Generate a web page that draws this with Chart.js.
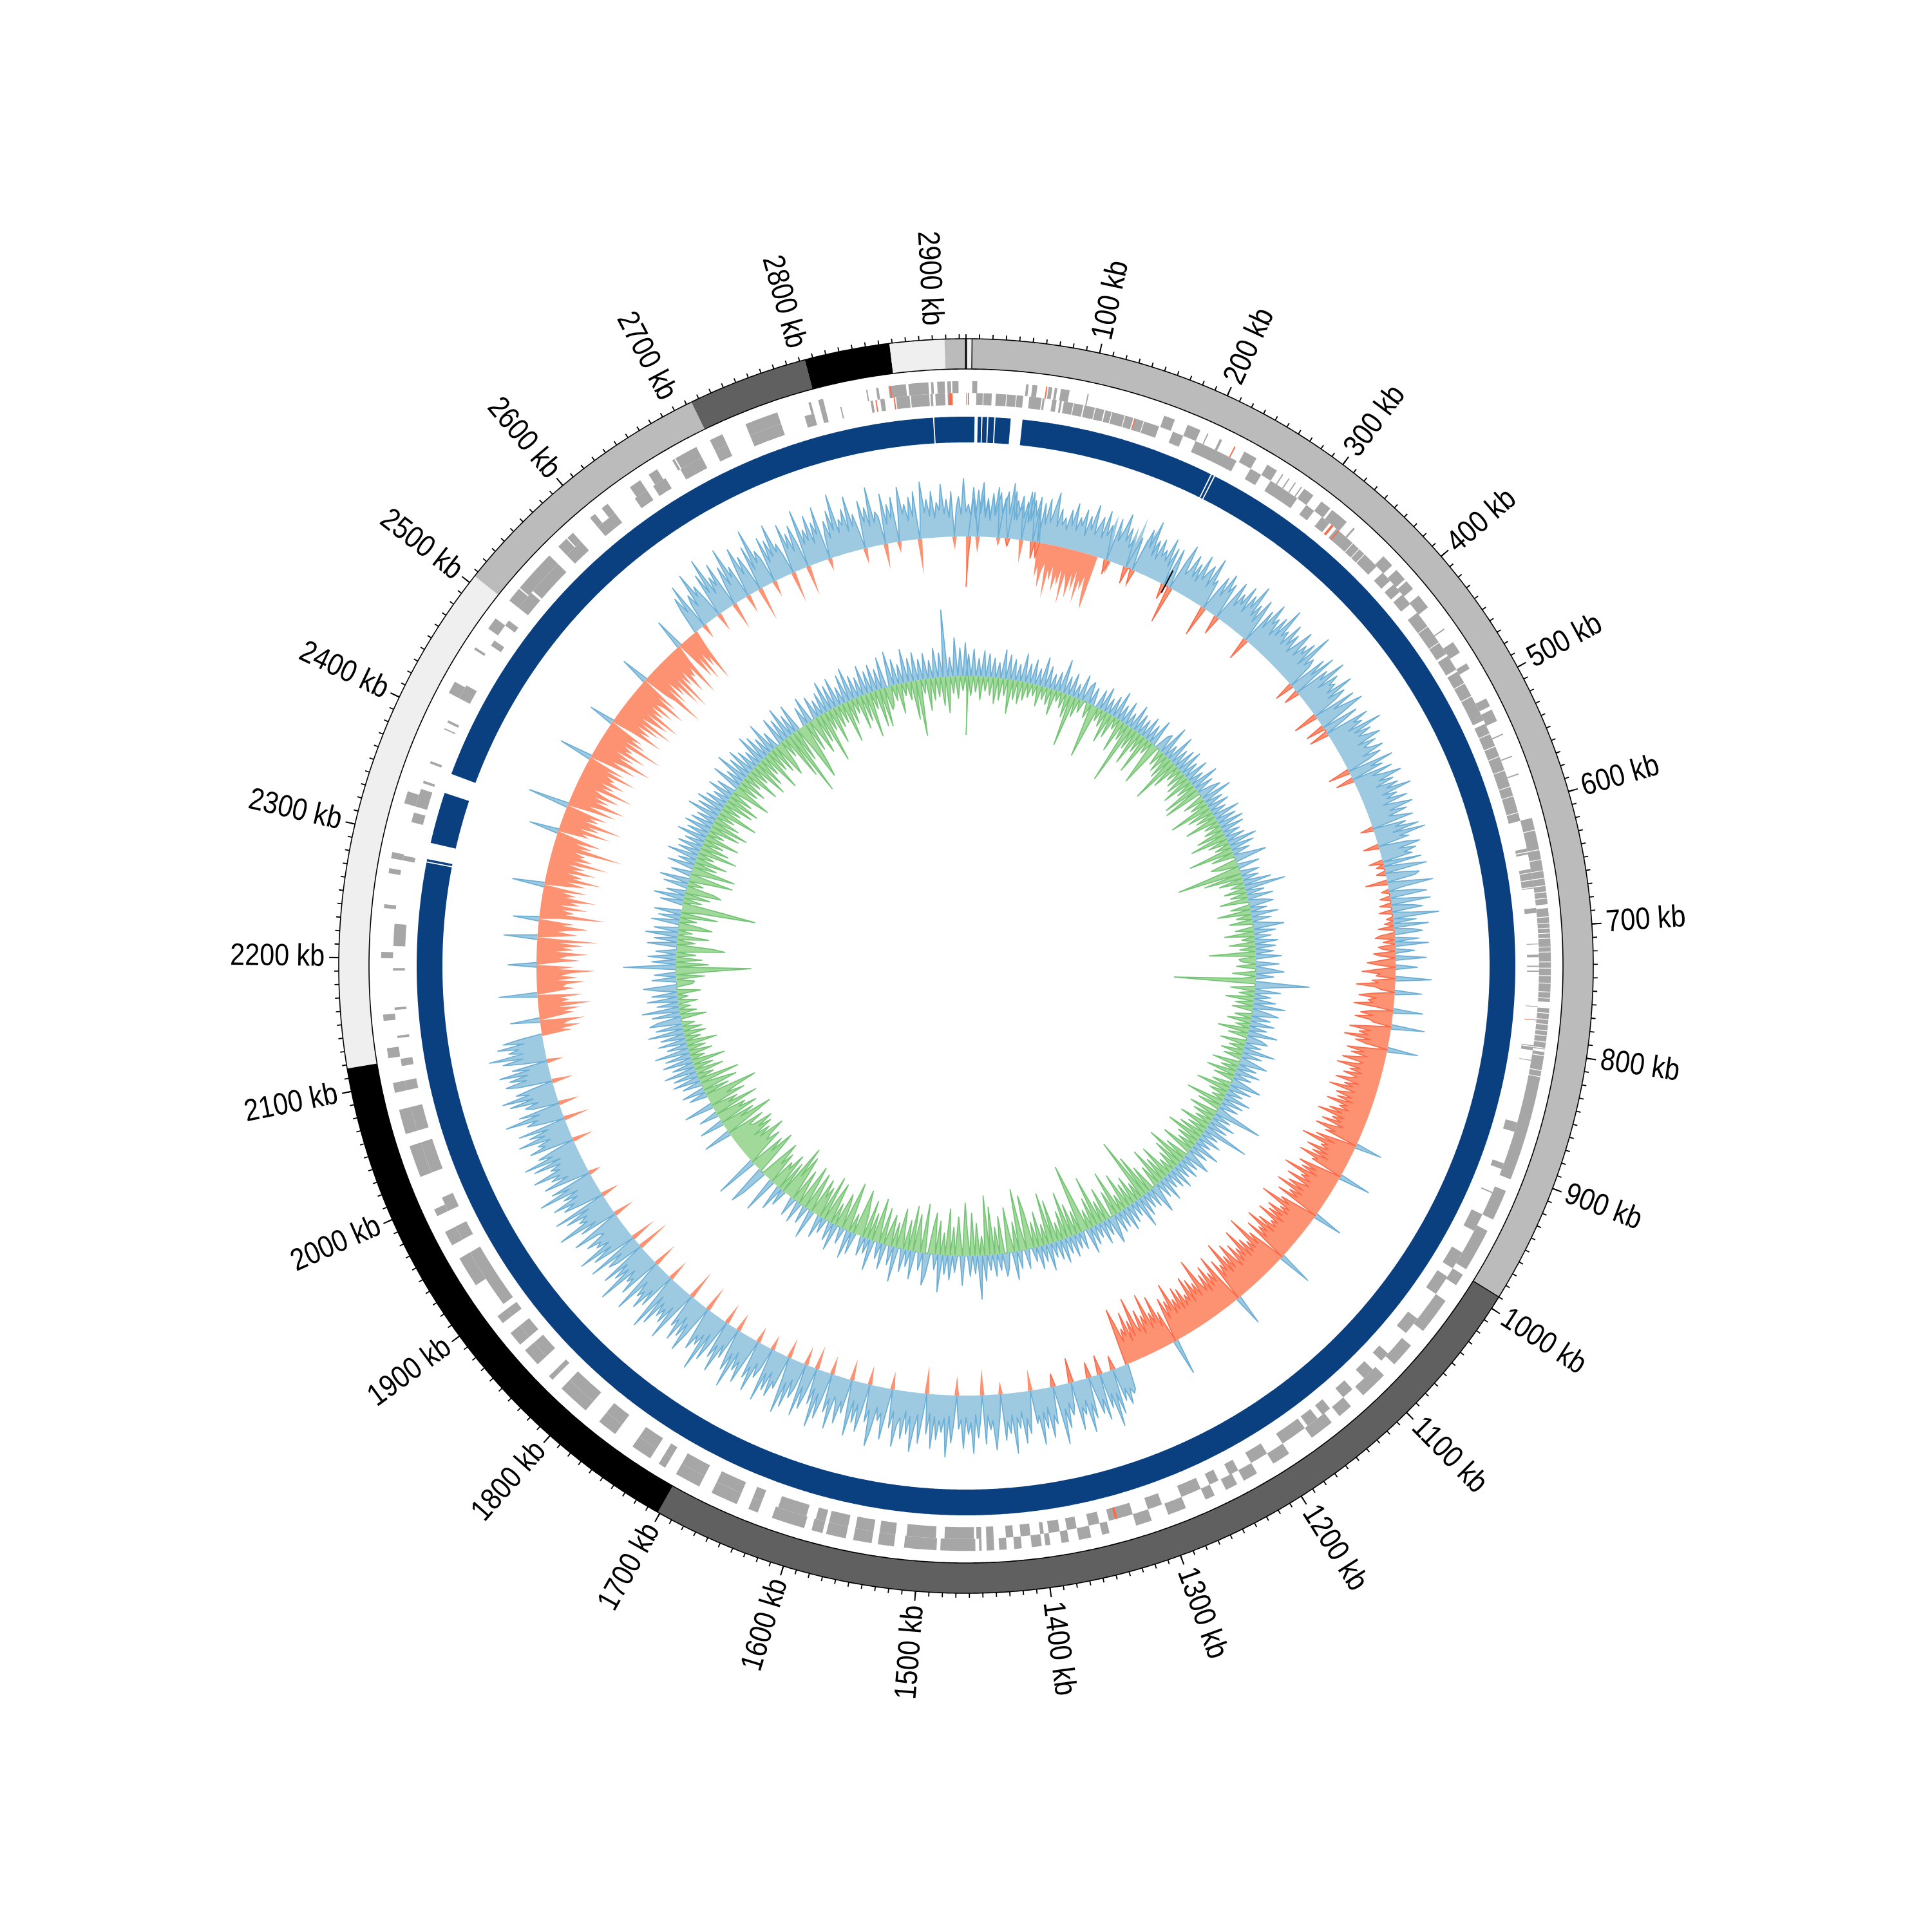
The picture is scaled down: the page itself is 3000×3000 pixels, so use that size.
<!DOCTYPE html>
<html><head><meta charset="utf-8"><style>html,body{margin:0;padding:0;background:#fff}canvas{display:block}</style>
<script src="https://cdn.jsdelivr.net/npm/chart.js@4/dist/chart.umd.js"></script></head>
<body><canvas id="c" width="3000" height="3000"></canvas>
<script>
const genomeKb=2925;
const tickLabels=[100,200,300,400,500,600,700,800,900,1000,1100,1200,1300,1400,1500,1600,1700,1800,1900,2000,2100,2200,2300,2400,2500,2600,2700,2800,2900];
const bandStarts=[0,4.5,990,1702,2117,2506,2714,2804,2868,2909];
const bandEnds=[4.5,990,1702,2117,2506,2714,2804,2868,2909,2925];
const bandColors=['#efefef','#bbbbbb','#606060','#000000','#efefef','#bbbbbb','#606060','#000000','#efefef','#bbbbbb'];
const contigs=[0,7.3,10,13,14,18,19,24,25,38,48,215,216,218,219,2282,2283,2285,2299,2343,2360,2897,2898,2925];
const geneOuter=[5,9,48,50,53,57,66,69,71,73,76,83,97.5,98.5,161,170,181,192,198,199,209,211,231,242,252,261,266,267,272,273,278,279,284,285,287,296,304,313,315,330,337,338.5,370,380,385,395,397,405,412,424,445,446,458,468,478,483,510,517,520,530,541,542,560,561,575,576,612,682,685,760,765,798,800,905,915,940,950,985,990,1000,1015,1045,1060,1080,1092,1115,1128,1140,1148,1168,1190,1205,1220,1232,1238,1248,1258,1266,1283,1298,1312,1325,1347,1353,1362,1372,1380,1386,1395,1399,1402,1410,1418,1424,1430,1436,1440,1446,1450,1452,1455,1483,1486,1512,1520,1533,1538,1553,1559,1575,1578,1587,1593,1620,1632,1640,1650,1672,1683,1704,1714,1720,1728,1745,1762,1778,1792,1818,1828,1832,1845,1860,1866,1878,1888,1895,1925,1950,1962,1974,1988,1994,2000,2000,2022,2048,2058,2078,2092,2100,2120,2128,2150,2155,2200,2205,2240,2243,2268,2272,2280,2285,2325,2335,2395,2395,2420,2430,2460,2462,2480,2490,2508,2520,2521,2556,2566,2575,2576,2582,2600,2605,2612,2618,2628,2628,2640,2650,2658,2666,2680,2682,2683,2702,2714,2725,2745,2772,2798,2800,2806,2810,2845,2846,2853,2855,2863,2877,2879,2895,2897,2899,2902,2908,2910,2913,2914,2919,2921];
const geneInner=[0,0.6,1.8,2.6,8.4,21,24.3,46.6,51.6,61.6,62.5,64.2,70.4,74,76.6,78.3,80,96,97,113.5,114.5,138,139,160,172,181,192,206,206,229,242,252,261,287,296,304,312,320,327,365,365,372,379,388,392,400,403,413,422,463,465,478,480,515,515,525,528,600,600,612,635,640,652,668,684,688,713,713.6,722,724,731,732,735,736,764,764.6,796,800,808,808.6,860,868,895,900,920,921,940,955,975,990,998,1015,1040,1055,1077,1085,1095,1105,1118,1128,1142,1150,1155,1165,1168,1190,1205,1220,1232,1240,1250,1258,1266,1283,1300,1312,1325,1345,1353,1362,1372,1380,1386,1395,1399,1402,1410,1418,1424,1430,1440,1446,1450,1454,1456,1480,1487,1511,1520,1533,1538,1553,1559,1575,1578,1586,1594,1618,1632,1640,1650,1672,1683,1704,1714,1720,1728,1745,1762,1778,1792,1818,1828,1832,1845,1860,1866,1878,1888,1895,1900,1950,1962,1974,1988,2000,2022,2048,2058,2078,2092,2100,2112,2118,2135,2137,2158,2160,2190,2192,2210,2228,2280,2284,2312,2320,2325,2340,2345,2347,2362,2364,2392,2393,2398,2400,2420,2432,2470,2475,2490,2495,2508,2524,2526,2556,2566,2582,2600,2608,2608,2618,2638,2650,2656,2668,2682,2702,2714,2725,2745,2772,2792,2800,2806,2810,2822,2823,2847,2849,2855,2858.5,2868,2879,2880,2895,2896,2898,2900,2908,2910,2913,2914,2920,2921,2925];
const redOuter=[64,65,222,223,2864,2865];
const redInner=[139,139.7,322,324,329,330,775,775.5,1338,1340,2866,2867,2911,2914,2851,2852,1.5,2];
const geneGaps=[14,33,41,88,106,120,131,147,345,352,358,436,452,491,503,537,548,557,569,583,591,605,622,638,646,655,661,667,672,677,692,697,701,705,709,716,720,728,733,739,745,752,757,762,769,774,778,783,787,792,797,803,815,820,825,832,837,843,849,855,862,868,874,881,888,895,902,955,962,971,978,1021,1031,1102,1906,1912,1918,1930,1946,2106,2113,2122,2134,2142,2160,2168,2176,2183,2192,2214,2220,2226,2233,2248,2254,2262,2290,2297,2306,2316,2342,2351,2368,2376,2384,2405,2412,2438,2446,2452,2535,2543,2550,2590,2735,2755,2763,2780,2790,2818,2830,2838];
const skewBin=2.5;
const skewValues=[
-78,-30,32,58,28,72,36,64,30,52,26,66,34,48,70,38,62,24,-12,40,74,30,44,68,34,60,28,76,36,-26,52,-24,62,30,70,34,56,82,30,58,
34,46,28,60,36,72,30,52,40,66,26,58,38,78,32,48,62,30,74,36,54,28,-22,68,34,50,80,38,60,30,44,-26,28,52,-24,36,70,42,86,32,
58,30,64,38,50,34,72,28,60,-24,62,34,-58,48,76,30,40,66,32,56,28,74,36,52,64,30,80,38,48,-48,34,60,30,70,42,58,-30,36,68,30,
54,38,72,30,62,44,84,34,56,28,70,40,-36,60,32,78,46,58,30,66,36,88,42,54,32,72,38,60,30,50,76,34,58,44,68,30,90,36,52,40,
-30,62,34,74,-24,56,40,82,30,64,46,54,36,78,32,60,42,-38,68,30,52,76,38,-30,58,34,-30,70,44,56,30,84,36,62,40,54,72,32,60,38,
46,66,30,58,38,-34,72,34,52,-28,64,30,48,74,36,58,28,62,42,80,32,54,36,68,28,50,72,34,60,30,46,66,-20,52,34,70,28,78,36,50,
-24,44,64,30,56,36,48,-22,60,-12,38,66,-14,30,52,44,-34,36,70,22,-12,40,58,-16,26,62,-18,32,48,-20,28,72,-10,36,-14,54,-24,30,44,-22,
-30,38,-18,52,-26,-20,30,-34,-24,48,-22,-44,-28,34,-26,-52,-24,-30,56,-36,-26,-60,-30,-22,42,-34,-55,-28,-40,-32,-62,-26,46,-36,-50,-30,-58,-34,-28,52,
-36,-64,-30,-48,-34,-70,-28,-52,-36,48,-30,-62,-34,-54,-28,-46,-66,-32,-40,-72,-34,-50,-30,-58,-36,-44,-68,-30,-52,-38,-74,-32,-46,-60,-34,-56,-30,-70,-36,-48,
-32,-62,-40,-78,-34,-52,-36,-66,-30,-46,-72,-38,-54,42,-34,-64,-32,-84,-40,-50,-36,-70,-34,-58,-30,-76,-44,-52,50,-36,-68,-38,-60,-32,-86,-42,-54,-36,-74,-34,
-48,-66,-38,-82,-36,-56,-40,-72,46,-34,-60,-44,-90,-38,-52,-36,-70,-42,-64,-34,-78,-40,-50,-38,-68,-36,-84,-44,-58,-38,-74,54,-36,-62,-42,-96,-40,-56,-38,-66,
-36,-88,-42,-60,-38,-72,-34,-54,-80,-40,-64,-36,-92,-44,-58,-38,-70,48,-36,-84,-42,-60,-38,-76,-34,-66,-40,-56,-98,-38,-62,-44,-72,-36,-80,-42,-54,-38,-68,-36,
-74,-40,-58,-36,-88,-44,-62,-34,-70,-38,56,-52,-30,-82,-40,-58,-34,-92,-44,-60,-32,-72,-38,-50,-96,-36,-62,-30,-78,-42,-54,-34,-68,-90,40,46,36,60,34,52,
-22,70,36,88,34,56,-30,72,38,60,30,-24,64,40,84,32,54,42,76,-38,36,50,30,68,38,92,34,-20,58,44,78,30,62,36,86,40,52,-34,34,66,
42,80,30,56,38,94,34,62,44,72,-20,36,58,86,40,54,32,76,-42,38,66,30,90,42,60,34,82,38,52,-30,44,74,32,96,36,58,40,70,34,84,
30,62,-44,40,78,34,56,92,38,66,30,74,42,54,88,34,60,-28,36,80,40,52,32,70,94,38,58,-30,44,76,34,64,30,86,40,-34,54,36,72,42,
32,84,38,60,-30,44,74,36,90,30,56,-38,40,68,34,82,-30,42,58,30,76,38,88,34,-32,54,44,70,32,64,38,84,-24,36,52,30,78,40,60,-26,
34,74,42,58,30,90,36,66,40,-30,52,32,80,38,60,-34,44,72,30,94,36,56,42,68,34,-42,48,82,38,62,30,74,40,54,-48,36,86,32,64,42,
58,36,78,30,92,40,-34,60,34,72,44,56,30,88,36,-40,68,42,52,32,96,38,62,34,76,-54,44,58,30,84,-42,40,70,36,90,34,54,44,66,32,
40,80,36,-34,60,32,94,42,54,38,72,30,86,-30,36,64,44,78,34,56,30,92,40,68,-20,36,74,32,58,42,84,38,52,34,76,30,88,40,62,36,
-34,70,44,54,32,82,38,62,30,76,-42,36,58,40,90,34,66,-34,42,52,30,74,36,84,40,60,32,-34,54,72,38,64,34,78,30,56,-26,42,68,36,
88,34,56,40,72,30,62,36,-48,-30,-62,-36,-44,-70,46,-32,-54,-38,-66,-30,-84,-36,-50,-34,-72,60,-30,-58,-40,-46,-76,-32,-64,-38,-52,-92,-34,-60,44,-30,
-68,-36,-48,-80,-30,-58,-40,-72,-34,-96,52,-38,-62,-30,-50,-78,-36,-56,40,-32,-104,-40,-54,-34,-74,-30,-60,-44,-84,-36,-52,-30,-70,50,-38,-64,-34,-88,-42,-56,
-32,-76,-38,-58,-30,-92,-36,-66,-44,-52,-34,-110,-40,-60,-32,-72,-38,46,-50,-36,-82,-30,-62,-42,-96,-34,-56,-40,-68,64,-36,-78,-32,-54,-88,-38,-60,-34,-74,-42,
-30,-92,-38,-58,-34,-72,-44,-52,-36,-84,-32,-62,52,-40,-76,-34,-56,-96,-38,-64,-30,-80,-42,-54,-36,-100,-34,-68,-40,-58,40,-32,-86,-44,-62,-36,-74,-38,-92,-34,
-56,-78,-36,-94,-42,-60,-34,-72,-38,-50,-86,-32,-66,44,-40,-56,-104,-36,-70,-30,-60,-42,-84,-34,-96,-38,-58,-32,-76,-44,-52,-36,-90,-30,48,-40,-68,-34,-78,-32,
-58,-42,-88,-30,38,60,32,76,-24,38,52,30,84,42,58,34,-30,70,36,92,30,56,40,74,-44,34,62,28,88,38,54,-30,44,78,32,60,36,-54,70,30,
94,38,56,42,-26,72,30,64,36,86,40,52,32,-50,78,38,60,30,70,44,-48,90,34,56,38,76,30,62,42,84,-20,36,58,30,72,40,96,34,54,44,
68,32,86,38,56,30,-26,74,40,62,32,92,36,52,44,-40,78,30,60,38,70,-18,34,84,42,56,30,66,36,74,-56,32,88,40,60,34,72,30,54,42,
82,36,58,30,70,-20,44,62,34,90,38,50,32,76,42,-26,56,84,36,60,30,68,40,78,-14,34,54,72,38,86,30,60,44,52,-36,36,76,32,64,40,
70,30,-54,-36,-70,-42,-30,-84,-38,-56,-32,-72,-44,-60,-34,-88,-38,-52,-76,-36,-64,-30,-80,-42,-58,-34,-70,-86,34,30,44,72,36,-22,58,32,80,38,52,30,
66,40,84,34,-30,56,30,72,38,50,62
];
const gcBin=4;
const gcValues=[
-91,34,-30,42,-24,28,-36,40,-22,36,-28,30,-40,24,-34,45,-26,38,-53,32,-30,26,-35,44,-28,
30,-22,38,-18,26,-32,46,-20,34,-26,24,-40,30,-16,52,-24,28,-36,36,-80,22,-30,40,-20,26,
34,-24,28,-44,-84,30,-20,38,-26,24,-48,32,-36,44,-18,26,-52,36,-28,22,-97,40,-34,30,-56,
26,-30,36,-62,28,-22,42,-40,-70,24,30,-26,50,-32,22,-38,46,-75,28,-44,34,-24,40,-30,26,
-36,38,-48,24,-28,44,-56,30,-60,22,36,-34,48,-26,28,-66,34,-40,24,-30,42,-52,32,-24,40,
-28,36,-44,26,-58,30,-32,46,-24,38,-70,28,-36,22,50,-42,-30,34,-48,-100,30,-60,26,-38,44,
-22,64,-34,28,-26,40,-44,24,38,-30,26,-52,42,-24,30,-36,22,48,-28,34,-46,26,-20,36,-40,
32,-24,28,-72,40,-26,-22,36,-30,24,44,-36,28,-20,-126,84,30,-38,40,-24,26,-44,34,-28,50,
-32,24,42,-26,30,-36,38,-22,28,-48,46,-30,24,34,-40,26,-24,50,-34,32,-28,22,44,-42,30,
-26,38,-46,28,-32,24,48,-30,36,-52,26,-28,42,-20,34,-58,30,-36,24,75,-44,28,-34,40,-26,
32,-48,72,-30,26,-40,36,-56,24,-34,44,-28,30,-50,22,42,-36,28,-63,34,-46,26,-32,38,-24,
30,-54,24,-38,40,-60,28,-34,22,46,-42,30,-66,26,-100,34,-28,48,-44,24,-36,30,-58,38,-26,
28,-70,32,-40,24,44,-52,26,-34,36,-78,22,-46,30,-30,40,-62,-108,28,-36,24,-50,34,-72,26,
-44,38,-28,30,-66,24,-80,42,-32,26,-54,36,-40,22,-60,-84,30,-34,-96,28,-46,44,-30,-70,24,
36,-58,26,-42,34,-74,24,-92,40,-30,68,-50,28,-66,32,-36,-82,46,-28,-60,26,-44,38,-72,30,
-34,58,-52,24,-64,-40,34,50,-76,28,-32,-58,44,-70,26,-46,36,-30,-62,54,-38,30,-48,-28,40,
-56,26,-34,-68,48,-42,24,-60,30,-36,-52,-72,34,-30,44,-46,-77,26,-38,-54,42,-34,30,-64,-40,
24,-70,36,-48,-30,-58,46,-36,-62,28,-42,-68,34,-28,-54,30,-44,-72,-36,-84,26,-50,40,-60,-32,
-42,56,-52,-30,-66,-38,44,63,-46,-72,-34,-58,67,-28,-62,-40,-50,-76,-36,-56,-30,-64,-44,-70,-38,
-34,-60,44,-46,-81,-30,-54,38,-64,-36,-48,30,-72,-26,-42,46,-58,-30,-50,-82,28,-40,36,-56,-34,
30,-64,42,-26,38,-44,50,-30,34,-52,46,-22,40,-36,54,-28,32,-48,44,-24,38,-34,56,-30,42,
-20,50,36,-40,44,-26,58,-18,34,-30,48,-16,40,-36,30,52,-24,-28,38,-44,34,-60,-116,82,-50,
38,-40,44,-30,32,-75,-56,46,-28,36,-48,50,-22,38,-52,-34,44,-26,34,-58,42,-30,-115,-70,36,
-28,48,-40,30,-56,-44,38,-24,46,-34,-68,32,-28,-68,42,-36,28,-50,48,-26,34,-60,38,-44,30,
-32,46,-54,34,-26,42,-48,36,-58,30,-40,50,-28,38,-62,44,-30,34,-46,26,-52,40,-36,30,-24,
-60,46,-34,28,-42,52,-28,36,-54,44,-30,34,-58,26,-46,48,-32,40,-64,30,-36,50,-44,28,-56,
-40,44,-30,36,-72,50,-105,32,-52,44,-36,-90,-66,30,-48,42,-28,-58,36,-44,26,-80,34,-32,48,
-56,38,-34,46,-30,28,-64,44,-38,52,-24,36,-52,30,-42,46,-70,34,-28,42,-58,32,-60,48,-36,
-30,54,-24,40,-46,30,-20,52,-28,36,-60,44,-87,32,-22,40,-50,28,-34,46,-30,38,-44,104,-56,
30,-26,60,-34,44,-22,52,-30
];
const blackKb=[224.5,428,752,869,942,960,1163,1439,1678,1737,1869,1965,2104,2275,2640,2730];
const blackInner=[654,660,665,640,640,640,650,665,665,665,655,660,640,635,668,665];
const blackOuter=[693,700,670,665,665,665,665,696,700,700,675,695,685,670,675,685];

const R={bandIn:927,bandOut:974,tickMinor:981,tickMajor:989,label:996,geneO:899,geneI:880.5,contig:833,skew:667,gc:450};
const GAP={x:NaN,y:NaN};
function pt(kb,r){const a=kb/genomeKb*2*Math.PI;return {x:r*Math.sin(a),y:r*Math.cos(a)};}
function arc(s,e,r,step=1){const p=[];for(let k=s;k<e;k+=step)p.push(pt(k,r));p.push(pt(e,r));return p;}
function blocks(flat,r){const p=[];for(let i=0;i<flat.length;i+=2){p.push(...arc(flat[i],flat[i+1],r,1.5),GAP);}return p;}
const ds=[];
function line(data,color,width){ds.push({data,borderColor:color,borderWidth:width,borderDash:[1e6,1],showLine:true,fill:false,pointRadius:0,borderCapStyle:'butt',borderJoinStyle:'round',spanGaps:false,parsing:false,clip:false});}
function area(data,color){ds.push({data,borderWidth:0,borderDash:[1e6,1],borderColor:'rgba(0,0,0,0)',backgroundColor:color,showLine:true,fill:'shape',pointRadius:0,parsing:false,clip:false});}
function hist(vals,bin,r0,sign,cl,cf){
  const up=vals.map(v=>Math.max(sign*v,0));
  const outer=up.map((u,i)=>pt(i*bin,r0+sign*u));
  const base=vals.map((v,i)=>pt(i*bin,r0)).reverse();
  area(outer.concat(base),cf);
  const stroke=[];
  up.forEach((u,i)=>{const a=up[i-1]||0,b=up[i+1]||0;if(u===0&&a===0&&b===0){stroke.push(GAP);}else stroke.push(outer[i]);});
  line(stroke,cl,1.7);
}
bandStarts.forEach((s,i)=>line(arc(s,bandEnds[i],(R.bandIn+R.bandOut)/2),bandColors[i],R.bandOut-R.bandIn));
line(arc(0,genomeKb,R.bandIn,2),'#000',1.6);
line(arc(0,genomeKb,R.bandOut,2),'#000',1.6);
{const p=[];bandStarts.forEach(s=>{p.push(pt(s,R.bandIn),pt(s,R.bandOut),GAP);});line(p,'#000',1.4);}
line([pt(0,R.bandIn),pt(0,R.bandOut)],'#000',3);
{const p=[];for(let k=0;k<genomeKb;k+=10){p.push(pt(k,R.bandOut),pt(k,R.tickMinor),GAP);}line(p,'#000',1.8);
 const q=[];tickLabels.forEach(k=>{q.push(pt(k,R.bandOut),pt(k,R.tickMajor),GAP);});line(q,'#000',2);}
line(blocks(geneOuter,R.geneO),'#a6a6a6',18.5);
line(blocks(geneInner,R.geneI),'#a6a6a6',18.5);
line(blocks(redOuter,R.geneO),'#fb6a4a',18.5);
line(blocks(redInner,R.geneI),'#fb6a4a',18.5);
{const p=[];geneGaps.forEach(k=>{p.push(pt(k,871),pt(k,909),GAP);});line(p,'#ffffff',1.2);}
line(blocks(contigs,R.contig),'#0a3f80',40);
hist(skewValues,skewBin,R.skew,1,'#6baed6','#9ecae1');
hist(skewValues,skewBin,R.skew,-1,'#fb6a4a','#fc9272');
{const p=[];blackKb.forEach((k,i)=>{p.push(pt(k,blackInner[i]),pt(k,blackOuter[i]),GAP);});line(p,'#000',2);}
hist(gcValues,gcBin,R.gc,1,'#6baed6','#9ecae1');
hist(gcValues,gcBin,R.gc,-1,'#74c476','#a1d99b');
ds.forEach((d,i)=>d.order=ds.length-i);
const labelPlugin={id:'radialLabels',afterDatasetsDraw(ch){
  const c=ch.ctx,sx=ch.scales.x,sy=ch.scales.y;
  c.save();c.fillStyle='#000';c.font='48px "Liberation Sans"';c.textBaseline='middle';
  tickLabels.forEach(k=>{
    const deg=k/genomeKb*360;const p=pt(k,R.label);
    const X=sx.getPixelForValue(p.x),Y=sy.getPixelForValue(p.y);
    c.save();c.translate(X,Y);
    if(deg<180){c.rotate((deg-90)*Math.PI/180);c.scale(0.86,1);c.textAlign='left';}
    else{c.rotate((deg+90)*Math.PI/180);c.scale(0.86,1);c.textAlign='right';}
    c.fillText(k+' kb',0,0);c.restore();
  });
  c.restore();
}};
new Chart(document.getElementById('c'),{type:'scatter',data:{datasets:ds},plugins:[labelPlugin],options:{responsive:false,animation:false,devicePixelRatio:1,layout:{padding:0},
 scales:{x:{type:'linear',min:-1500,max:1500,display:false},y:{type:'linear',min:-1500,max:1500,display:false}},
 plugins:{legend:{display:false},tooltip:{enabled:false}},events:[]}});
</script></body></html>
